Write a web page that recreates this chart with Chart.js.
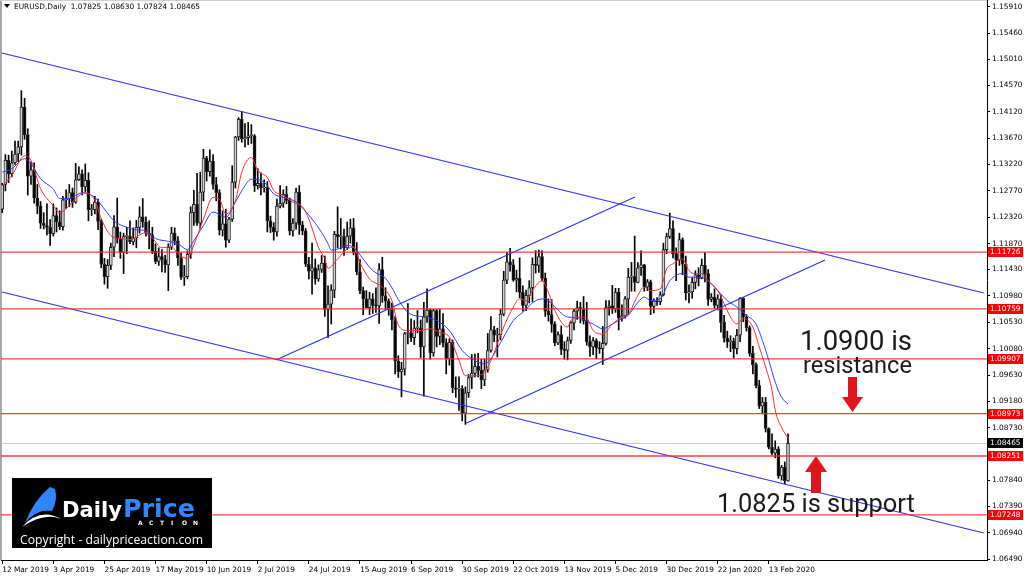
<!DOCTYPE html>
<html>
<head>
<meta charset="utf-8">
<script src="https://cdn.jsdelivr.net/npm/chart.js@4/dist/chart.umd.min.js"></script>
<style>
  html, body { margin: 0; padding: 0; background: #fff; overflow: hidden; }
  canvas { display: block; }
</style>
</head>
<body>
<canvas id="chart" width="1024" height="578"></canvas>
<script>
// EURUSD daily, 12 Mar 2019 - 21 Feb 2020 (one entry per bar)
const opens = [
  1.1246,1.1288,1.1329,1.1306,1.1325,1.1340,1.1352,1.1420,1.1373,1.1302,
  1.1313,1.1265,1.1251,1.1222,1.1218,1.1215,1.1204,1.1235,1.1224,1.1216,
  1.1262,1.1264,1.1274,1.1258,1.1296,1.1306,1.1284,1.1295,1.1245,1.1245,
  1.1258,1.1225,1.1152,1.1131,1.1150,1.1181,1.1216,1.1195,1.1172,1.1199,
  1.1200,1.1190,1.1197,1.1215,1.1233,1.1224,1.1205,1.1202,1.1174,1.1157,
  1.1165,1.1160,1.1151,1.1181,1.1205,1.1192,1.1163,1.1130,1.1131,1.1169,
  1.1240,1.1254,1.1222,1.1275,1.1333,1.1310,1.1328,1.1288,1.1274,1.1210,
  1.1221,1.1193,1.1229,1.1292,1.1369,1.1399,1.1366,1.1368,1.1371,1.1371,
  1.1286,1.1290,1.1282,1.1283,1.1226,1.1215,1.1207,1.1251,1.1256,1.1271,
  1.1261,1.1209,1.1222,1.1275,1.1219,1.1209,1.1152,1.1140,1.1146,1.1127,
  1.1143,1.1154,1.1075,1.1084,1.1108,1.1203,1.1199,1.1199,1.1180,1.1200,
  1.1214,1.1172,1.1139,1.1107,1.1093,1.1078,1.1093,1.1082,1.1081,1.1143,
  1.1098,1.1089,1.1075,1.1057,1.0987,1.0969,1.0973,1.1034,1.1035,1.1027,
  1.1043,1.1043,1.1011,1.1063,1.1074,1.1001,1.1073,1.1029,1.1042,1.1018,
  1.0991,1.1019,1.0941,1.0939,1.0940,1.0898,1.0933,1.0959,1.0966,1.0978,
  1.0971,1.0955,1.0972,1.1005,1.1040,1.1031,1.1032,1.1067,1.1125,1.1156,
  1.1151,1.1125,1.1128,1.1104,1.1082,1.1099,1.1112,1.1152,1.1150,1.1165,
  1.1128,1.1072,1.1066,1.1050,1.1018,1.1032,1.1007,1.1005,1.1022,1.1052,
  1.1072,1.1078,1.1076,1.1056,1.1020,1.1011,1.1022,1.1009,1.1008,1.1017,
  1.1078,1.1081,1.1076,1.1104,1.1060,1.1064,1.1093,1.1130,1.1131,1.1121,
  1.1146,1.1151,1.1113,1.1122,1.1080,1.1089,1.1088,1.1100,1.1177,1.1199,
  1.1213,1.1170,1.1159,1.1194,1.1152,1.1103,1.1105,1.1121,1.1134,1.1128,
  1.1150,1.1136,1.1092,1.1096,1.1082,1.1093,1.1053,1.1026,1.1020,1.1021,
  1.1008,1.1031,1.1094,1.1062,1.1044,1.1000,1.0981,1.0945,1.0910,1.0917,
  1.0872,1.0840,1.0830,1.0837,1.0791,1.0806,1.07825
];
const highs = [
  1.1290,1.1339,1.1338,1.1345,1.1362,1.1362,1.1448,1.1435,1.1383,1.1326,
  1.1325,1.1288,1.1259,1.1240,1.1255,1.1228,1.1255,1.1248,1.1243,1.1268,
  1.1279,1.1288,1.1282,1.1324,1.1318,1.1313,1.1323,1.1308,1.1254,1.1268,
  1.1263,1.1229,1.1162,1.1160,1.1188,1.1235,1.1265,1.1207,1.1205,1.1215,
  1.1226,1.1214,1.1227,1.1250,1.1264,1.1233,1.1226,1.1215,1.1187,1.1180,
  1.1177,1.1167,1.1187,1.1215,1.1214,1.1199,1.1171,1.1150,1.1175,1.1250,
  1.1278,1.1307,1.1309,1.1348,1.1336,1.1347,1.1339,1.1300,1.1279,1.1243,
  1.1246,1.1232,1.1320,1.1370,1.1402,1.1412,1.1392,1.1394,1.1390,1.1373,
  1.1315,1.1308,1.1296,1.1293,1.1234,1.1223,1.1263,1.1286,1.1279,1.1285,
  1.1265,1.1230,1.1282,1.1286,1.1225,1.1213,1.1164,1.1188,1.1161,1.1151,
  1.1167,1.1166,1.1115,1.1117,1.1208,1.1250,1.1230,1.1212,1.1224,1.1229,
  1.1230,1.1189,1.1160,1.1113,1.1107,1.1104,1.1102,1.1112,1.1153,1.1164,
  1.1112,1.1093,1.1086,1.1063,1.0996,1.0985,1.1036,1.1085,1.1059,1.1056,
  1.1073,1.1057,1.1087,1.1110,1.1076,1.1075,1.1075,1.1075,1.1068,1.1025,
  1.1025,1.1023,1.0960,1.0960,1.0945,1.0943,1.0964,1.0998,1.0999,1.1000,
  1.0990,1.0990,1.1034,1.1063,1.1046,1.1043,1.1075,1.1140,1.1172,1.1179,
  1.1160,1.1142,1.1163,1.1115,1.1108,1.1124,1.1163,1.1175,1.1176,1.1175,
  1.1137,1.1093,1.1092,1.1054,1.1037,1.1047,1.1020,1.1028,1.1055,1.1075,
  1.1089,1.1087,1.1097,1.1087,1.1030,1.1027,1.1025,1.1020,1.1046,1.1090,
  1.1090,1.1116,1.1111,1.1111,1.1083,1.1097,1.1145,1.1155,1.1200,1.1155,
  1.1175,1.1152,1.1126,1.1125,1.1093,1.1095,1.1105,1.1188,1.1205,1.1239,
  1.1226,1.1180,1.1205,1.1197,1.1166,1.1117,1.1129,1.1141,1.1146,1.1161,
  1.1172,1.1143,1.1102,1.1110,1.1100,1.1100,1.1065,1.1038,1.1030,1.1026,
  1.1041,1.1095,1.1095,1.1066,1.1047,1.1012,1.0984,1.0954,1.0925,1.0925,
  1.0873,1.0863,1.0851,1.0841,1.0809,1.0815,1.08630
];
const lows = [
  1.1240,1.1277,1.1291,1.1301,1.1322,1.1327,1.1338,1.1365,1.1270,1.1288,
  1.1256,1.1238,1.1213,1.1212,1.1202,1.1184,1.1200,1.1207,1.1211,1.1210,
  1.1247,1.1250,1.1249,1.1256,1.1295,1.1270,1.1276,1.1226,1.1235,1.1238,
  1.1211,1.1146,1.1118,1.1111,1.1143,1.1165,1.1188,1.1162,1.1136,1.1170,
  1.1187,1.1185,1.1180,1.1205,1.1215,1.1200,1.1178,1.1170,1.1153,1.1150,
  1.1139,1.1138,1.1107,1.1177,1.1185,1.1150,1.1126,1.1116,1.1127,1.1162,
  1.1218,1.1218,1.1213,1.1260,1.1294,1.1302,1.1280,1.1260,1.1202,1.1200,
  1.1181,1.1189,1.1225,1.1282,1.1363,1.1360,1.1352,1.1356,1.1358,1.1276,
  1.1280,1.1270,1.1275,1.1207,1.1206,1.1193,1.1200,1.1248,1.1249,1.1255,
  1.1202,1.1200,1.1212,1.1203,1.1202,1.1148,1.1127,1.1101,1.1118,1.1123,
  1.1138,1.1063,1.1027,1.1050,1.1095,1.1180,1.1178,1.1167,1.1177,1.1188,
  1.1168,1.1134,1.1102,1.1066,1.1078,1.1066,1.1068,1.1070,1.1051,1.1087,
  1.1075,1.1065,1.1040,1.0965,1.0959,1.0926,1.0963,1.1016,1.1020,1.1015,
  1.1035,1.0993,1.0927,1.1053,1.0990,1.0995,1.1011,1.1015,1.1011,1.0965,
  1.0980,1.0933,1.0925,1.0903,1.0885,1.0879,1.0925,1.0940,1.0960,1.0960,
  1.0940,1.0945,1.0968,1.1002,1.1020,1.0994,1.1023,1.1064,1.1119,1.1140,
  1.1123,1.1105,1.1095,1.1072,1.1073,1.1086,1.1088,1.1137,1.1138,1.1123,
  1.1063,1.1055,1.1036,1.1013,1.1015,1.0998,1.0990,1.0989,1.1017,1.1040,
  1.1058,1.1052,1.1050,1.1014,1.0995,1.0998,1.0991,1.1000,1.0981,1.1014,
  1.1065,1.1068,1.1070,1.1040,1.1055,1.1060,1.1066,1.1106,1.1106,1.1120,
  1.1133,1.1106,1.1107,1.1066,1.1069,1.1082,1.1083,1.1098,1.1170,1.1196,
  1.1163,1.1124,1.1150,1.1134,1.1091,1.1086,1.1094,1.1110,1.1115,1.1127,
  1.1122,1.1082,1.1088,1.1077,1.1074,1.1036,1.1019,1.1010,1.1003,1.0992,
  1.0999,1.1020,1.1054,1.1038,1.0995,1.0965,1.0941,1.0906,1.0897,1.0866,
  1.0837,1.0827,1.0822,1.0787,1.0784,1.0778,1.07824
];
const closes = [
  1.1288,1.1329,1.1306,1.1325,1.1340,1.1352,1.1420,1.1373,1.1302,1.1313,
  1.1265,1.1251,1.1222,1.1218,1.1215,1.1204,1.1235,1.1224,1.1216,1.1262,
  1.1264,1.1274,1.1258,1.1296,1.1306,1.1284,1.1295,1.1245,1.1245,1.1258,
  1.1225,1.1152,1.1131,1.1150,1.1181,1.1216,1.1195,1.1172,1.1199,1.1200,
  1.1190,1.1197,1.1215,1.1233,1.1224,1.1205,1.1202,1.1174,1.1157,1.1165,
  1.1160,1.1151,1.1181,1.1205,1.1192,1.1163,1.1130,1.1131,1.1169,1.1240,
  1.1254,1.1222,1.1275,1.1333,1.1310,1.1328,1.1288,1.1274,1.1210,1.1221,
  1.1193,1.1229,1.1292,1.1369,1.1399,1.1366,1.1368,1.1371,1.1371,1.1286,
  1.1290,1.1282,1.1283,1.1226,1.1215,1.1207,1.1251,1.1256,1.1271,1.1261,
  1.1209,1.1222,1.1275,1.1219,1.1209,1.1152,1.1140,1.1146,1.1127,1.1143,
  1.1154,1.1075,1.1084,1.1108,1.1203,1.1199,1.1199,1.1180,1.1200,1.1214,
  1.1172,1.1139,1.1107,1.1093,1.1078,1.1093,1.1082,1.1081,1.1143,1.1098,
  1.1089,1.1075,1.1057,1.0987,1.0969,1.0973,1.1034,1.1035,1.1027,1.1043,
  1.1043,1.1011,1.1063,1.1074,1.1001,1.1073,1.1029,1.1042,1.1018,1.0991,
  1.1019,1.0941,1.0939,1.0940,1.0898,1.0933,1.0959,1.0966,1.0978,1.0971,
  1.0955,1.0972,1.1005,1.1040,1.1031,1.1032,1.1067,1.1125,1.1156,1.1151,
  1.1125,1.1128,1.1104,1.1082,1.1099,1.1112,1.1152,1.1150,1.1165,1.1128,
  1.1072,1.1066,1.1050,1.1018,1.1032,1.1007,1.1005,1.1022,1.1052,1.1072,
  1.1078,1.1076,1.1056,1.1020,1.1011,1.1022,1.1009,1.1008,1.1017,1.1078,
  1.1081,1.1076,1.1104,1.1060,1.1064,1.1093,1.1130,1.1131,1.1121,1.1146,
  1.1151,1.1113,1.1122,1.1080,1.1089,1.1088,1.1100,1.1177,1.1199,1.1213,
  1.1170,1.1159,1.1194,1.1152,1.1103,1.1105,1.1121,1.1134,1.1128,1.1150,
  1.1136,1.1092,1.1096,1.1082,1.1093,1.1053,1.1026,1.1020,1.1021,1.1008,
  1.1031,1.1094,1.1062,1.1044,1.1000,1.0981,1.0945,1.0910,1.0917,1.0872,
  1.0840,1.0830,1.0837,1.0791,1.0806,1.0783,1.08465
];

// moving averages (bar index, price)
const redMaBars = [0,3,7,9,12,16,18,21,23,26,29,31,34,37,40,45,47,50,53,55,58,60,63,66,68,70,73,75,78,80,83,85,88,91,94,96,99,101,102,105,108,110,112,115,119,122,124,127,131,134,137,140,143,145,148,151,153,157,160,162,164,166,169,171,173,177,178,181,183,185,188,191,194,196,199,201,203,206,208,210,213,215,217,219,221,224,226,228,230,232,235,237,239,241,242,244,246];
const redMaValues = [1.1286,1.1303,1.1337,1.1329,1.1281,1.1252,1.1240,1.1252,1.1264,1.1274,1.1261,1.1230,1.1201,1.1196,1.1194,1.1206,1.1197,1.1180,1.1182,1.1170,1.1162,1.1185,1.1229,1.1266,1.1263,1.1238,1.1260,1.1309,1.1334,1.1312,1.1300,1.1278,1.1269,1.1258,1.1250,1.1229,1.1181,1.1161,1.1145,1.1161,1.1178,1.1181,1.1155,1.1127,1.1113,1.1090,1.1048,1.1039,1.1039,1.1042,1.1036,1.1028,1.0988,1.0962,1.0962,1.0968,1.0988,1.1045,1.1079,1.1093,1.1090,1.1107,1.1124,1.1104,1.1073,1.1045,1.1056,1.1062,1.1060,1.1039,1.1033,1.1050,1.1062,1.1067,1.1099,1.1113,1.1107,1.1110,1.1144,1.1153,1.1161,1.1141,1.1136,1.1136,1.1124,1.1107,1.1085,1.1062,1.1050,1.1059,1.1045,1.1011,1.0977,1.0937,1.0903,1.0874,1.0855];
const blueMaBars = [0,3,7,9,12,16,18,21,25,29,32,35,39,42,45,48,52,55,58,60,63,66,70,73,76,78,82,85,88,92,97,100,102,103,105,108,110,113,116,120,122,124,127,132,136,140,144,147,151,153,157,160,163,167,170,172,177,180,183,185,188,191,194,196,199,201,203,206,209,213,215,218,221,224,227,230,233,236,238,240,242,244,246];
const blueMaValues = [1.1309,1.1315,1.1332,1.1323,1.1298,1.1280,1.1264,1.1264,1.1274,1.1266,1.1246,1.1226,1.1215,1.1211,1.1209,1.1196,1.1191,1.1187,1.1177,1.1192,1.1218,1.1241,1.1232,1.1258,1.1286,1.1297,1.1292,1.1272,1.1266,1.1258,1.1229,1.1206,1.1187,1.1176,1.1178,1.1184,1.1181,1.1161,1.1141,1.1128,1.1112,1.1092,1.1070,1.1062,1.1056,1.1039,1.1005,1.0991,1.0982,1.0991,1.1028,1.1056,1.1070,1.1090,1.1093,1.1085,1.1062,1.1061,1.1055,1.1050,1.1042,1.1050,1.1059,1.1065,1.1087,1.1096,1.1090,1.1093,1.1124,1.1136,1.1130,1.1130,1.1124,1.1107,1.1090,1.1079,1.1065,1.1050,1.1022,1.0988,1.0951,1.0925,1.0914];

// horizontal levels and trend lines
const levelPrices = [1.11726, 1.10759, 1.09907, 1.08973, 1.08251, 1.07248];
const trendStartBar = [-0.1, -0.1, 85.7, 145.2];
const trendStartPrice = [1.15121, 1.11047, 1.09888, 1.08808];
const trendEndBar = [307.3, 307.3, 198.1, 257.6];
const trendEndPrice = [1.11030, 1.06938, 1.12666, 1.11592];

// axis labels
const priceTicks = [1.15910,1.15460,1.15010,1.14570,1.14120,1.13670,1.13220,1.12770,1.12320,1.11870,1.11430,
                    1.10980,1.10530,1.10080,1.09630,1.09180,1.08730,1.07840,1.07390,1.06940,1.06490];
const dateTickBars = [0,16,32,48,64,80,96,112,128,144,160,176,192,208,224,240];
const dateTickLabels = ['12 Mar 2019','3 Apr 2019','25 Apr 2019','17 May 2019','10 Jun 2019','2 Jul 2019',
  '24 Jul 2019','15 Aug 2019','6 Sep 2019','30 Sep 2019','22 Oct 2019','13 Nov 2019','5 Dec 2019',
  '30 Dec 2019','22 Jan 2020','13 Feb 2020'];

const X_MIN = -0.38, X_MAX = 308.3;
const Y_MIN = 1.06478, Y_MAX = 1.16025;
const LAST = closes.length - 1;

const barIdx = closes.map((c, i) => i);
const wickData = barIdx.map(i => ({ x: i, y: [lows[i], highs[i]] }));
const bodyData = barIdx.map(i => ({ x: i, y: [opens[i], closes[i]] }));
const bodyFill = barIdx.map(i => closes[i] >= opens[i] ? '#d6d6d6' : '#000000');

const lineDs = (points, color, width, order) => ({
  type: 'line', data: points, borderColor: color, borderWidth: width,
  pointRadius: 0, fill: false, order: order, tension: 0
});

const datasets = [];
levelPrices.forEach(p => {
  datasets.push(lineDs([{ x: X_MIN, y: p }, { x: X_MAX, y: p }], 'rgba(245,40,40,0.9)', 1.3, 1));
});
datasets.push(lineDs([{ x: X_MIN, y: closes[LAST] }, { x: X_MAX, y: closes[LAST] }], '#c8c8c8', 1, 4));
trendStartBar.forEach((b, k) => {
  datasets.push(lineDs([{ x: b, y: trendStartPrice[k] }, { x: trendEndBar[k], y: trendEndPrice[k] }], '#2a32f0', 1.2, 1));
});
const redMa = lineDs(redMaBars.map((b, k) => ({ x: b, y: redMaValues[k] })), '#ff2a2a', 1, 0);
redMa.cubicInterpolationMode = 'monotone';
const blueMa = lineDs(blueMaBars.map((b, k) => ({ x: b, y: blueMaValues[k] })), '#2f3cff', 1, 0);
blueMa.cubicInterpolationMode = 'monotone';
datasets.push(redMa, blueMa);
datasets.push({
  type: 'bar', data: bodyData, backgroundColor: bodyFill, borderColor: '#222', borderWidth: 1,
  borderSkipped: false, barThickness: 3, minBarLength: 1, grouped: false, order: 2
});
datasets.push({
  type: 'bar', data: wickData, backgroundColor: '#000', borderWidth: 0,
  barThickness: 1, grouped: false, order: 3
});

const axisFont = { family: 'DejaVu Sans', size: 7.4 };

function fitText(ctx, text, x, y, width, weight, family, color) {
  ctx.font = weight + ' 20px ' + family;
  const size = 20 * width / ctx.measureText(text).width;
  ctx.font = weight + ' ' + size.toFixed(2) + 'px ' + family;
  ctx.fillStyle = color;
  ctx.fillText(text, x, y);
}

const overlay = {
  id: 'overlay',
  beforeDatasetsDraw(chart) {
    const ctx = chart.ctx;
    ctx.save();
    ctx.fillStyle = '#a8a8a8';
    ctx.fillRect(0, 0, 2, chart.chartArea.bottom);
    ctx.fillStyle = '#d0d0d0';
    ctx.fillRect(0, 0, chart.chartArea.right, 1);
    ctx.restore();
  },
  afterDraw(chart) {
    const ctx = chart.ctx;
    const y = chart.scales.y;
    const right = chart.chartArea.right;
    ctx.save();

    // price boxes on the axis
    ctx.font = '7.4px "DejaVu Sans"';
    ctx.textBaseline = 'middle';
    const box = (price, bg) => {
      const py = Math.round(y.getPixelForValue(price));
      ctx.fillStyle = bg;
      ctx.fillRect(right + 1, py - 5, 35, 10);
      ctx.fillStyle = '#fff';
      ctx.fillText(price.toFixed(5), right + 3, py + 0.5);
    };
    levelPrices.forEach(p => box(p, '#ff0000'));
    box(closes[LAST], '#000000');

    // header
    ctx.fillStyle = '#000';
    ctx.beginPath();
    ctx.moveTo(4, 4); ctx.lineTo(10, 4); ctx.lineTo(7, 8); ctx.closePath(); ctx.fill();
    ctx.font = '7.4px "DejaVu Sans"';
    ctx.fillText('EURUSD,Daily  ' + [opens[LAST], highs[LAST], lows[LAST], closes[LAST]].map(v => v.toFixed(5)).join(' '), 14, 7);

    // annotations
    ctx.textBaseline = 'alphabetic';
    fitText(ctx, '1.0900 is', 800, 350, 112, '400', 'Roboto', '#1a1a1a');
    fitText(ctx, 'resistance', 803, 373, 109, '400', 'Roboto', '#1a1a1a');
    fitText(ctx, '1.0825 is support', 717, 512, 198, '400', 'Roboto', '#1a1a1a');

    ctx.fillStyle = '#e3141b';
    ctx.fillRect(848, 377, 9, 21);
    ctx.beginPath();
    ctx.moveTo(842, 397); ctx.lineTo(863, 397); ctx.lineTo(852.5, 412); ctx.closePath(); ctx.fill();
    ctx.fillRect(811, 471, 10, 22);
    ctx.beginPath();
    ctx.moveTo(805, 472); ctx.lineTo(827, 472); ctx.lineTo(816, 456); ctx.closePath(); ctx.fill();

    // logo
    ctx.fillStyle = '#000';
    ctx.fillRect(12, 478, 200, 70);
    ctx.fillStyle = '#2f86ff';
    ctx.beginPath();
    ctx.moveTo(25, 523);
    ctx.quadraticCurveTo(34, 500, 50, 487);
    ctx.lineTo(55, 489);
    ctx.quadraticCurveTo(58, 500, 52, 511);
    ctx.quadraticCurveTo(38, 508, 25, 523);
    ctx.fill();
    ctx.fillStyle = '#fff';
    ctx.beginPath();
    ctx.moveTo(22, 527);
    ctx.quadraticCurveTo(40, 507, 61, 519);
    ctx.quadraticCurveTo(44, 512, 22, 527);
    ctx.fill();
    fitText(ctx, 'Daily', 62, 517, 60, 'bold', '"DejaVu Sans"', '#ffffff');
    fitText(ctx, 'Price', 123, 517, 72, 'bold', '"DejaVu Sans"', '#2f86ff');
    ctx.font = 'bold 6px "DejaVu Sans"';
    ctx.fillStyle = '#fff';
    'ACTION'.split('').forEach((ch, k) => ctx.fillText(ch, 138 + k * 11, 525));
    fitText(ctx, 'Copyright - dailypriceaction.com', 20, 544, 183, '400', '"Open Sans"', '#ffffff');

    ctx.restore();
  }
};

new Chart(document.getElementById('chart'), {
  type: 'bar',
  data: { datasets: datasets },
  options: {
    responsive: false,
    animation: false,
    layout: { padding: { left: 1, top: 0, right: 0, bottom: 0 } },
    plugins: { legend: { display: false }, tooltip: { enabled: false } },
    scales: {
      x: {
        type: 'linear', min: X_MIN, max: X_MAX, offset: false,
        grid: { drawOnChartArea: false, drawTicks: true, tickLength: 4, color: '#000', offset: false },
        border: { display: true, color: '#000' },
        ticks: {
          autoSkip: false, maxRotation: 0, align: 'start', padding: 2, color: '#000', font: axisFont,
          callback: v => dateTickLabels[dateTickBars.indexOf(v)]
        },
        afterBuildTicks: s => { s.ticks = dateTickBars.map(v => ({ value: v })); },
        afterFit: s => { s.height = 18; s.paddingLeft = 0; s.paddingRight = 0; }
      },
      y: {
        position: 'right', min: Y_MIN, max: Y_MAX, beginAtZero: false,
        grid: { drawOnChartArea: false, tickLength: 3, color: '#000' },
        border: { display: true, color: '#000' },
        ticks: {
          autoSkip: false, padding: 2, color: '#000', font: axisFont,
          callback: v => v.toFixed(5)
        },
        afterBuildTicks: s => { s.ticks = priceTicks.map(v => ({ value: v })); },
        afterFit: s => { s.width = 37; s.paddingTop = 0; s.paddingBottom = 0; }
      }
    }
  },
  plugins: [overlay]
});
</script>
</body>
</html>
